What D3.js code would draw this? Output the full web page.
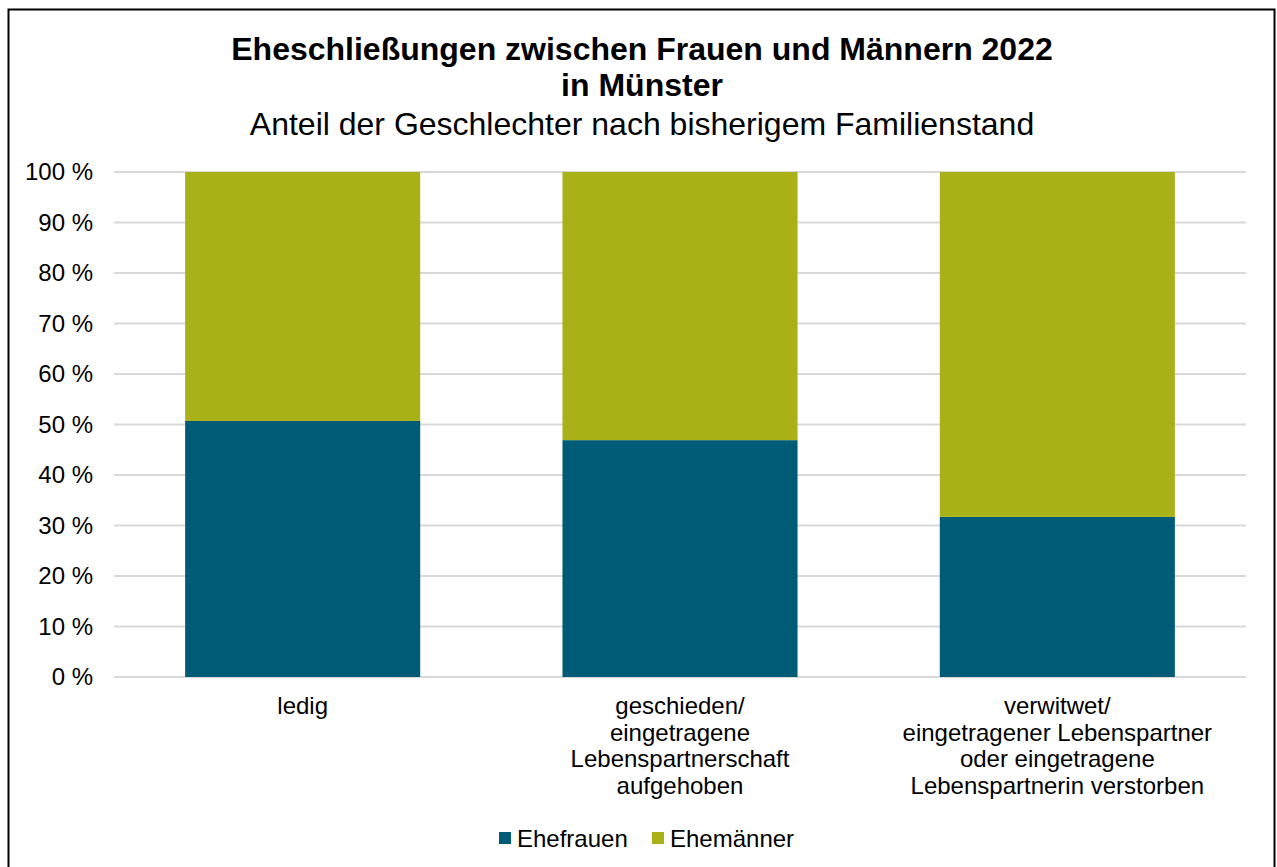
<!DOCTYPE html>
<html>
<head>
<meta charset="utf-8">
<script src="https://cdn.jsdelivr.net/npm/d3@7"></script>
<style>
    body { margin: 0; background: #fff; }
    text { font-family: "Liberation Sans", Arial, sans-serif; fill: #000; }
</style>
</head>
<body>
<svg id="chart"></svg>
<script>
const categories = [
    ["ledig"],
    ["geschieden/", "eingetragene", "Lebenspartnerschaft", "aufgehoben"],
    ["verwitwet/", "eingetragener Lebenspartner", "oder eingetragene", "Lebenspartnerin verstorben"]
];
const ehefrauen = [50.7, 46.9, 31.7];
const ehemaenner = [49.3, 53.1, 68.3];
const seriesNames = ["Ehefrauen", "Ehemänner"];
const colors = ["#005b76", "#a8b118"];
const yTicks = [0, 10, 20, 30, 40, 50, 60, 70, 80, 90, 100];

const WIDTH = 1277, HEIGHT = 867;
const PLOT_L = 114, PLOT_R = 1246, PLOT_T = 172, PLOT_B = 677;
const LABEL_SIZE = 24;

const svg = d3.select("#chart")
    .attr("width", WIDTH)
    .attr("height", HEIGHT);

svg.append("rect")
    .attr("x", 8.5).attr("y", 9.5)
    .attr("width", 1266).attr("height", 870)
    .attr("fill", "#fff")
    .attr("stroke", "#000")
    .attr("stroke-width", 2);

// titles
svg.append("text").attr("x", 642).attr("y", 60)
    .attr("text-anchor", "middle").attr("font-size", 32).attr("font-weight", "bold")
    .text("Eheschließungen zwischen Frauen und Männern 2022");
svg.append("text").attr("x", 642).attr("y", 96)
    .attr("text-anchor", "middle").attr("font-size", 32).attr("font-weight", "bold")
    .text("in Münster");
svg.append("text").attr("x", 642).attr("y", 135)
    .attr("text-anchor", "middle").attr("font-size", 32)
    .text("Anteil der Geschlechter nach bisherigem Familienstand");

const x = d3.scaleBand()
    .domain(d3.range(categories.length))
    .range([PLOT_L, PLOT_R])
    .paddingInner(0.377)
    .paddingOuter(0.1885);

const y = d3.scaleLinear()
    .domain([0, 100])
    .range([PLOT_B, PLOT_T]);

// gridlines
svg.append("g")
    .selectAll("line")
    .data(yTicks)
    .enter()
    .append("line")
    .attr("x1", PLOT_L).attr("x2", PLOT_R)
    .attr("y1", d => y(d)).attr("y2", d => y(d))
    .attr("stroke", "#d9d9d9")
    .attr("stroke-width", 2);

// y axis labels
const yAxis = svg.append("g")
    .attr("transform", `translate(${PLOT_L - 21},0)`)
    .call(d3.axisLeft(y).tickValues(yTicks).tickSize(0).tickPadding(0).tickFormat(d => d + " %"));
yAxis.select(".domain").remove();
yAxis.selectAll("text")
    .attr("font-size", LABEL_SIZE)
    .attr("font-family", "Liberation Sans, Arial, sans-serif")
    .attr("fill", "#000");

// stacked bars
const rows = categories.map((c, i) => ({ i: i, Ehefrauen: ehefrauen[i], "Ehemänner": ehemaenner[i] }));
const stacked = d3.stack().keys(seriesNames)(rows);

svg.append("g")
    .selectAll("g")
    .data(stacked)
    .enter()
    .append("g")
    .attr("fill", (d, k) => colors[k])
    .selectAll("rect")
    .data(d => d)
    .enter()
    .append("rect")
    .attr("x", d => x(d.data.i))
    .attr("width", x.bandwidth())
    .attr("y", d => y(d[1]))
    .attr("height", d => y(d[0]) - y(d[1]));

// category labels
svg.append("g")
    .selectAll("text")
    .data(categories)
    .enter()
    .append("text")
    .attr("text-anchor", "middle")
    .attr("font-size", LABEL_SIZE)
    .each(function (lines, i) {
        const t = d3.select(this);
        lines.forEach((l, j) => {
            t.append("tspan")
                .attr("x", x(i) + x.bandwidth() / 2)
                .attr("y", 714 + j * 26.5)
                .text(l);
        });
    });

// legend
const legend = svg.append("g");
const legendX = [499, 652];
seriesNames.forEach((name, k) => {
    legend.append("rect")
        .attr("x", legendX[k]).attr("y", 832)
        .attr("width", 12).attr("height", 12)
        .attr("fill", colors[k]);
    legend.append("text")
        .attr("x", legendX[k] + 18).attr("y", 847)
        .attr("font-size", LABEL_SIZE)
        .text(name);
});
</script>
</body>
</html>
